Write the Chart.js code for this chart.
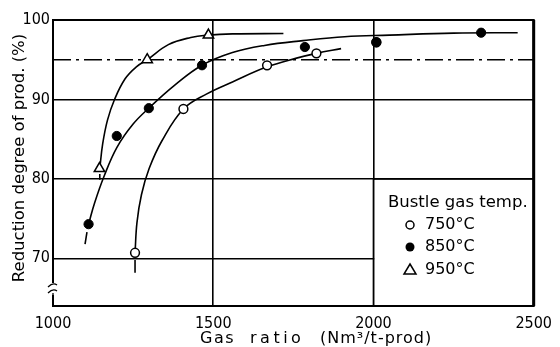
<!DOCTYPE html>
<html>
<head>
<meta charset="utf-8">
<script src="https://cdn.jsdelivr.net/npm/chart.js@4.4.0/dist/chart.umd.min.js"></script>
<style>
  html, body { margin: 0; padding: 0; background: #fff; }
</style>
</head>
<body>
<canvas id="chart" width="560" height="347"></canvas>
<script>
const tempLabels = ['750°C', '850°C', '950°C'];
const ratio750 = [1256, 1407, 1668, 1822, 2009];
const red750 = [70.7, 88.8, 94.3, 95.8, 97.2];
const ratio850 = [1111, 1199, 1299, 1465, 1786, 2009, 2336];
const red850 = [74.3, 85.4, 88.9, 94.3, 96.6, 97.2, 98.4];
const ratio950 = [1145, 1294, 1485];
const red950 = [81.3, 95.0, 98.1];

// hand drawn trend curves, also
const curve750x = [1256, 1262, 1276, 1300, 1340, 1407, 1480, 1560, 1668, 1760, 1822, 1899];
const curve750y = [70.7, 74.5, 78.0, 81.3, 84.8, 88.8, 90.7, 92.2, 94.1, 95.2, 95.8, 96.4];
const curve850x = [1111, 1130, 1160, 1200, 1250, 1299, 1380, 1465, 1560, 1660, 1780, 1910, 2050, 2250, 2450];
const curve850y = [74.3, 77.0, 80.4, 84.0, 86.9, 88.9, 91.8, 94.3, 95.9, 96.8, 97.4, 97.9, 98.1, 98.35, 98.4];
const curve950x = [1146, 1155, 1170, 1192, 1225, 1260, 1294, 1360, 1430, 1485, 1560, 1719];
const curve950y = [81.3, 84.4, 87.4, 90.0, 92.6, 94.1, 95.0, 96.9, 97.8, 98.1, 98.25, 98.3];
// short tails below the first points
const tail750x = [1256, 1256], tail750y = [68.2, 69.8];
const tail850x = [1100, 1106], tail850y = [71.8, 73.3];
const tail950x = [1146, 1146], tail950y = [79.9, 80.6];

const refLevel = 95;
const xTicks = [1000, 1500, 2000, 2500];
const yTicks = [70, 80, 90, 100];

function pts(xs, ys) {
    return xs.map((x, i) => ({ x: x, y: ys[i] }));
}

function curve(xs, ys) {
    return {
        data: pts(xs, ys), showLine: true, borderColor: '#000', borderWidth: 1.6,
        pointRadius: 0, tension: 0.4, order: 5
    };
}

// frame, axis break, legend box, axis titles
const extras = {
    id: 'extras',
    afterDatasetsDraw(chart) {
        const ctx = chart.ctx;
        const a = chart.chartArea;
        const xs = chart.scales.x, ys = chart.scales.y;
        const bx = xs.getPixelForValue(2000), by = ys.getPixelForValue(80);
        ctx.save();
        // legend box (hides the 70 line)
        ctx.fillStyle = '#fff';
        ctx.fillRect(bx + 1, by + 1, a.right - bx - 1, a.bottom - by - 1);
        ctx.strokeStyle = '#000';
        ctx.lineWidth = 1.6;
        ctx.beginPath();
        ctx.moveTo(bx, by); ctx.lineTo(bx, a.bottom);
        ctx.moveTo(bx, by); ctx.lineTo(a.right, by);
        ctx.stroke();

        // frame
        ctx.lineWidth = 2;
        ctx.strokeRect(a.left, a.top, a.right - a.left, a.bottom - a.top);
        ctx.lineWidth = 3;
        ctx.beginPath();
        ctx.moveTo(a.right, a.top); ctx.lineTo(a.right, a.bottom);
        ctx.stroke();

        // axis break
        ctx.fillStyle = '#fff';
        ctx.fillRect(a.left - 3, 283, 6, 12);
        ctx.lineWidth = 1.3;
        ctx.beginPath();
        ctx.moveTo(a.left - 5, 287); ctx.quadraticCurveTo(a.left, 282, a.left + 4, 285);
        ctx.moveTo(a.left - 5, 293); ctx.quadraticCurveTo(a.left, 288, a.left + 4, 291);
        ctx.moveTo(a.left, 293); ctx.lineTo(a.left, a.bottom);
        ctx.stroke();

        // legend
        ctx.fillStyle = '#000';
        ctx.textBaseline = 'middle';
        ctx.textAlign = 'left';
        ctx.font = '16.5px "DejaVu Sans"';
        ctx.fillText('Bustle gas temp.', 388, 203);
        ctx.font = '16px "DejaVu Sans"';
        const rowsY = [225, 247, 270];
        tempLabels.forEach((t, i) => {
            ctx.fillText(t, 425, rowsY[i]);
        });
        ctx.lineWidth = 1.5;
        ctx.beginPath();
        ctx.arc(410, rowsY[0], 4, 0, Math.PI * 2);
        ctx.stroke();
        ctx.beginPath();
        ctx.arc(410, rowsY[1], 4.5, 0, Math.PI * 2);
        ctx.fill();
        ctx.beginPath();
        ctx.moveTo(410, rowsY[2] - 6); ctx.lineTo(416, rowsY[2] + 4); ctx.lineTo(404, rowsY[2] + 4);
        ctx.closePath();
        ctx.stroke();

        // axis titles
        ctx.font = '16px "DejaVu Sans"';
        ctx.letterSpacing = '1.5px';
        ctx.fillText('Gas', 200, 339);
        ctx.letterSpacing = '3.5px';
        ctx.fillText('ratio', 250, 339);
        ctx.letterSpacing = '1px';
        ctx.fillText('(Nm³/t-prod)', 320, 339);
        ctx.letterSpacing = '0px';

        ctx.translate(20, 158);
        ctx.rotate(-Math.PI / 2);
        ctx.textAlign = 'center';
        ctx.font = '16.5px "DejaVu Sans"';
        ctx.fillText('Reduction degree of prod. (%)', 0, 0);
        ctx.restore();
    }
};

const ctx = document.getElementById('chart').getContext('2d');
const chart = new Chart(ctx, {
    type: 'scatter',
    data: {
        datasets: [
            {
                data: pts(ratio850, red850), pointStyle: 'circle', pointRadius: 4.6,
                pointBackgroundColor: '#000', pointBorderColor: '#000', order: 0
            },
            {
                data: pts(ratio750, red750), pointStyle: 'circle', pointRadius: 4.4,
                pointBackgroundColor: '#fff', pointBorderColor: '#000', pointBorderWidth: 1.5, order: 1
            },
            {
                data: pts(ratio950, red950), pointStyle: 'triangle', pointRadius: 6,
                pointBackgroundColor: '#fff', pointBorderColor: '#000', pointBorderWidth: 1.5, order: 0
            },
            curve(curve750x, curve750y),
            curve(curve850x, curve850y),
            curve(curve950x, curve950y),
            curve(tail750x, tail750y),
            curve(tail850x, tail850y),
            curve(tail950x, tail950y),
            {
                data: [{ x: 1000, y: refLevel }, { x: 2500, y: refLevel }], showLine: true,
                borderColor: '#000', borderWidth: 1.4, borderDash: [18, 5, 3, 5], pointRadius: 0, order: 6
            }
        ]
    },
    options: {
        responsive: false,
        animation: false,
        layout: { padding: { top: 20, right: 18, left: 0, bottom: 0 } },
        plugins: { legend: { display: false }, tooltip: { enabled: false } },
        scales: {
            x: {
                type: 'linear', min: 1000, max: 2500,
                afterBuildTicks: s => { s.ticks = xTicks.map(v => ({ value: v })); },
                afterFit: s => { s.height = 41; },
                ticks: {
                    color: '#000', padding: 8, maxRotation: 0,
                    font: { family: 'DejaVu Sans Condensed', size: 16 },
                    callback: v => String(v)
                },
                grid: { color: '#000', lineWidth: 1.6, drawTicks: false },
                border: { display: false }
            },
            y: {
                type: 'linear', min: 64, max: 100,
                afterBuildTicks: s => { s.ticks = yTicks.map(v => ({ value: v })); },
                afterFit: s => { s.width = 53; },
                ticks: {
                    color: '#000', padding: 3,
                    font: { family: 'DejaVu Sans Condensed', size: 16 },
                    callback: v => String(v)
                },
                grid: { color: '#000', lineWidth: 1.6, drawTicks: false },
                border: { display: false }
            }
        }
    },
    plugins: [extras]
});
</script>
</body>
</html>
